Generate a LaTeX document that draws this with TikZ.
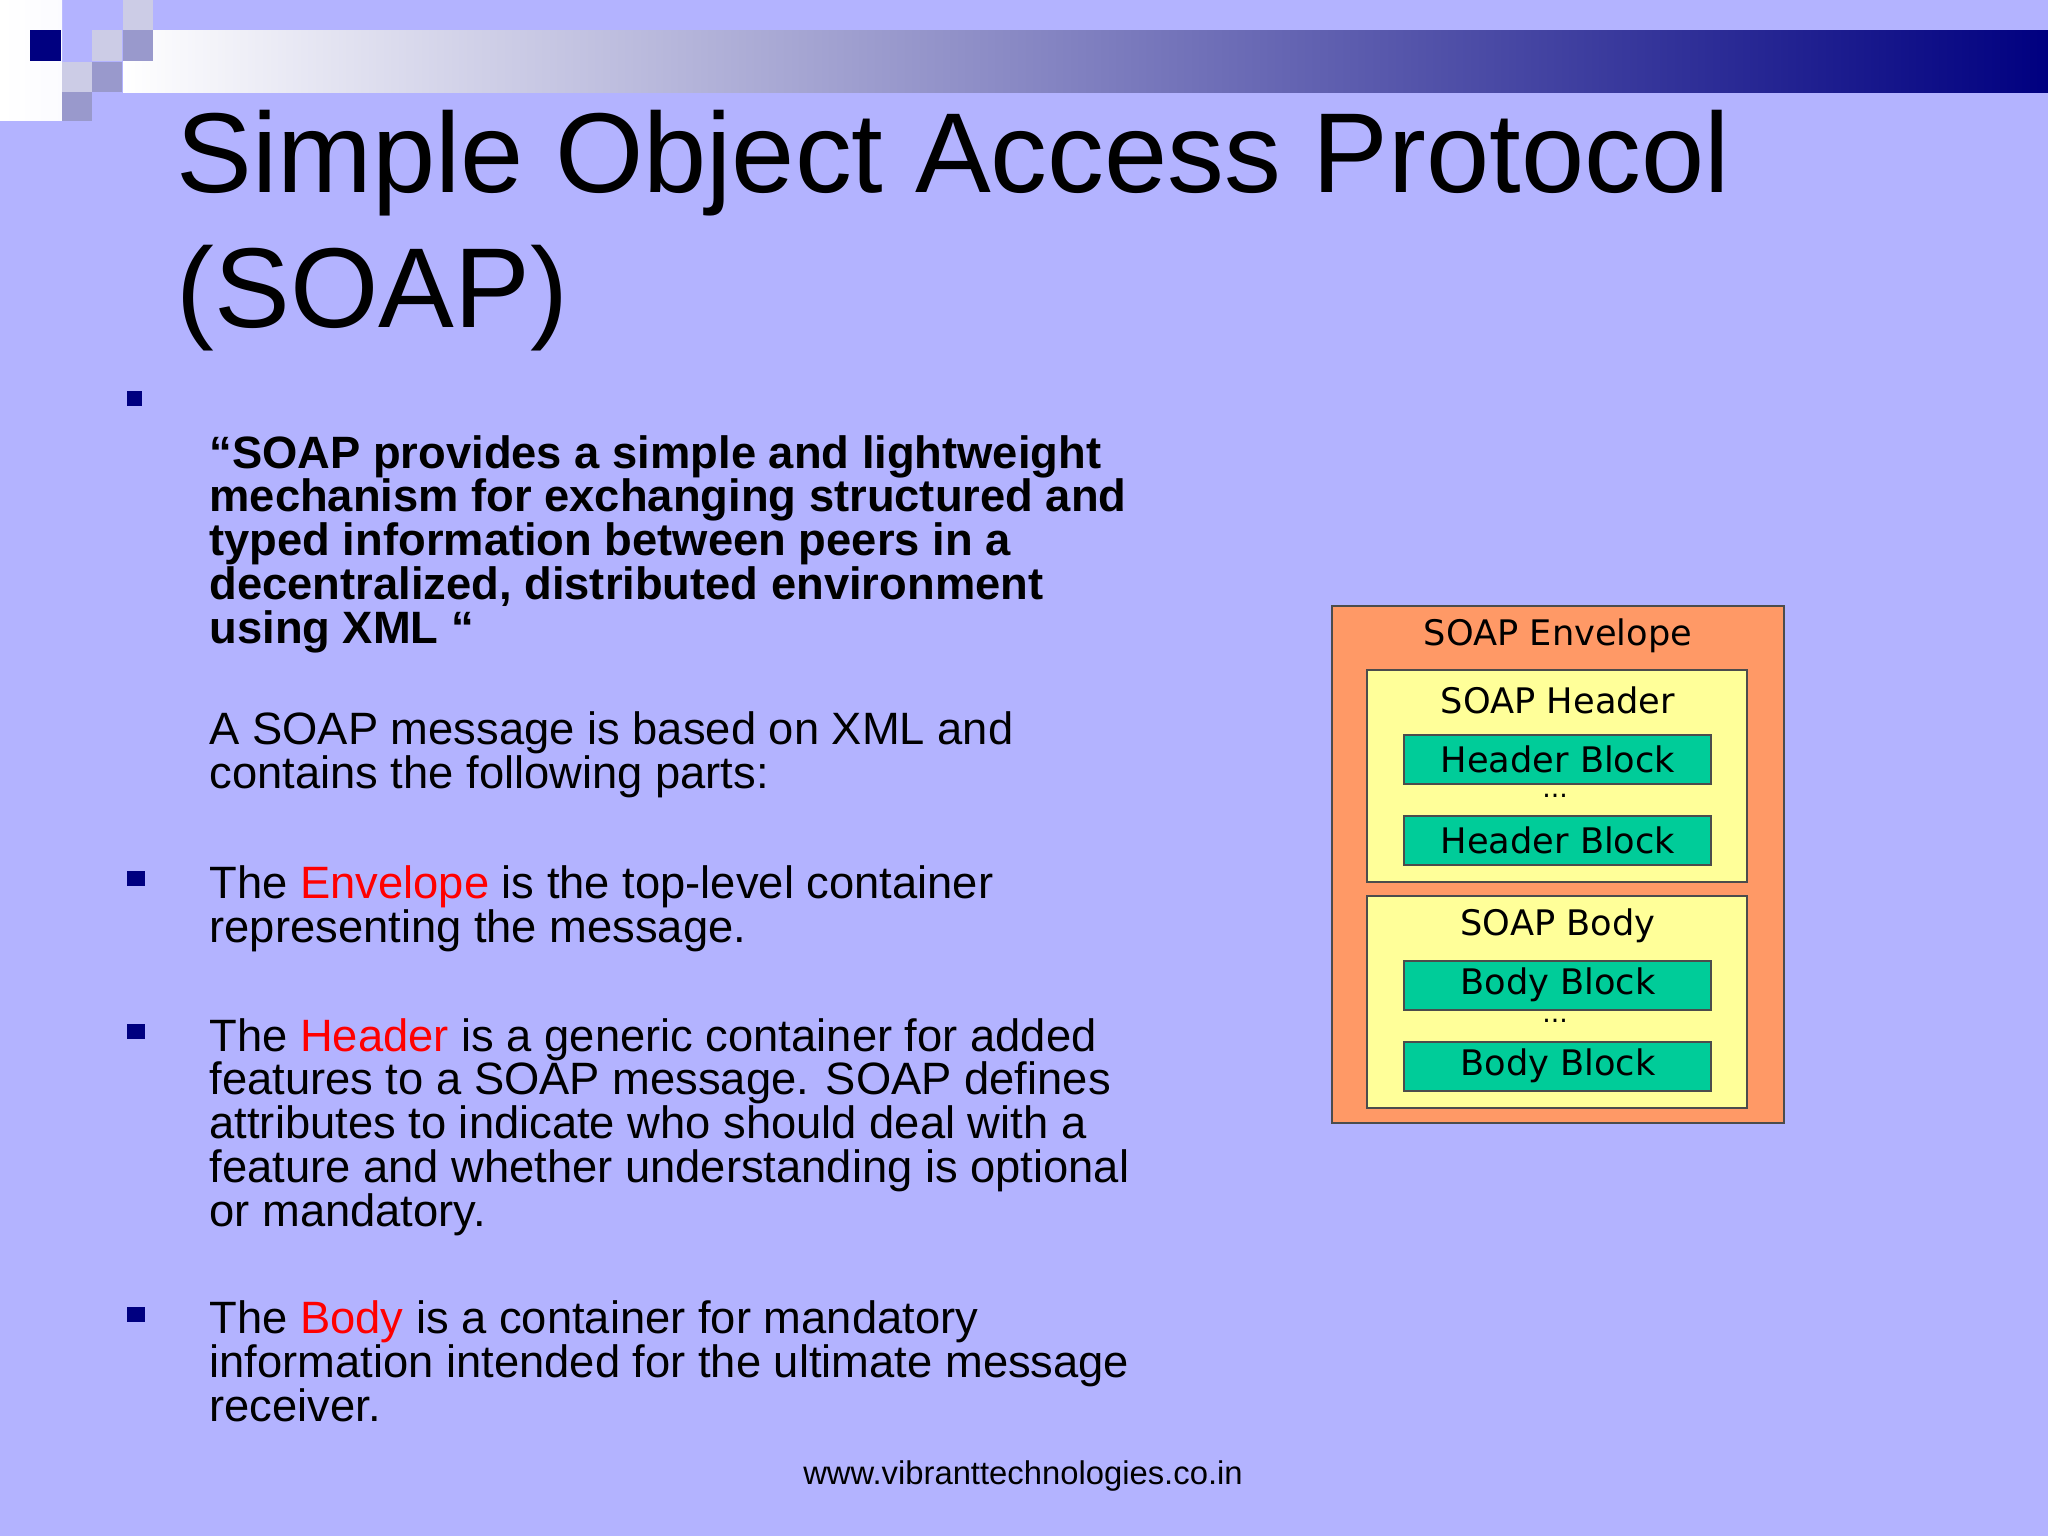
\documentclass[tikz,border=0pt]{standalone}
\usepackage{fontspec}
\setmainfont{Liberation Sans}
\newfontfamily\djvfont{DejaVu Sans}
\definecolor{bg}{RGB}{179,179,255}
\definecolor{navy}{RGB}{0,0,128}
\definecolor{sqA}{RGB}{204,204,230}
\definecolor{sqB}{RGB}{153,153,204}
\definecolor{orng}{RGB}{255,153,102}
\definecolor{yel}{RGB}{255,255,153}
\definecolor{grn}{RGB}{0,204,153}
\begin{document}
\begin{tikzpicture}[x=0.375pt,y=-0.375pt,
  txt/.style={anchor=base west,inner sep=0pt,font=\fontsize{17}{16.4}\selectfont,align=left},
  bul/.style={fill=navy},
  box/.style={draw=black!70,line width=0.6pt},
  lbl/.style={font=\djvfont\fontsize{13.2}{13}\selectfont,inner sep=0pt}]
\useasboundingbox (0,0) rectangle (2048,1536);
\fill[bg] (0,0) rectangle (2048,1536);
% header decoration
\shade[left color=white,right color=white!95!bg] (0,0) rectangle (62,120);
\shade[left color=white, middle color={rgb,255:red,150;green,150;blue,205}, right color=navy] (123,30) rectangle (2048,92);
\fill[navy] (30,30) rectangle (61,61);
\fill[sqA] (92,30) rectangle (122,61);
\fill[sqB] (123,30) rectangle (153,61);
\fill[sqA] (123,0) rectangle (153,30);
\fill[sqA] (62,62) rectangle (92,92);
\fill[sqB] (92,62) rectangle (122,92);
\fill[sqB] (62,92) rectangle (92,121);
% title
\node[anchor=base west,inner sep=0pt,font=\fontsize{42.6}{50}\selectfont] (t1) at (176,192) {Simple Object Access Protocol};
\node[anchor=base west,inner sep=0pt,font=\fontsize{42.6}{50}\selectfont] (t2) at (176,327) {(SOAP)};
% bullets
\fill[bul] (127,391) rectangle (142,406);
\fill[bul] (127,871) rectangle (145,886);
\fill[bul] (127,1024) rectangle (145,1039);
\fill[bul] (127,1307) rectangle (145,1322);
\node[txt,font=\bfseries\fontsize{17}{16.4}\selectfont] (q) at (209,643) {“SOAP provides a simple and lightweight\\mechanism for exchanging structured and\\typed information between peers in a\\decentralized, distributed environment\\using XML “};
\node[txt] (m) at (209,788) {A SOAP message is based on XML and\\contains the following parts:};
\node[txt] (e) at (209,942) {The \textcolor{red}{Envelope} is the top-level container\\representing the message.};
\node[txt] (h) at (209,1226) {The \textcolor{red}{Header} is a generic container for added\\features to a SOAP message. SOAP defines\\attributes to indicate who should deal with a\\feature and whether understanding is optional\\or mandatory.};
\node[txt] (b) at (209,1421) {The \textcolor{red}{Body} is a container for mandatory\\information intended for the ultimate message\\receiver.};
\node[anchor=base,inner sep=0pt,font=\fontsize{12.3}{14}\selectfont] (w) at (1023,1484) {www.vibranttechnologies.co.in};
% diagram
\draw[box,fill=orng] (1332,606) rectangle (1784,1123);
\draw[box,fill=yel] (1367,670) rectangle (1747,882);
\draw[box,fill=yel] (1367,896) rectangle (1747,1108);
\draw[box,fill=grn] (1404,735) rectangle (1711,784);
\draw[box,fill=grn] (1404,816) rectangle (1711,865);
\draw[box,fill=grn] (1404,961) rectangle (1711,1010);
\draw[box,fill=grn] (1404,1042) rectangle (1711,1091);
\node[lbl] (le) at (1558,636) {SOAP Envelope};
\node[lbl] (lh) at (1558,700) {SOAP Header};
\node[lbl] (hb1) at (1558,759) {Header Block};
\node[lbl,font=\djvfont\fontsize{10}{10}\selectfont] (d1) at (1555,796) {...};
\node[lbl] (hb2) at (1558,840) {Header Block};
\node[lbl] (lb) at (1558,926) {SOAP Body};
\node[lbl] (bb1) at (1558,985) {Body Block};
\node[lbl,font=\djvfont\fontsize{10}{10}\selectfont] (d2) at (1555,1021) {...};
\node[lbl] (bb2) at (1558,1066) {Body Block};
\end{tikzpicture}
\end{document}
